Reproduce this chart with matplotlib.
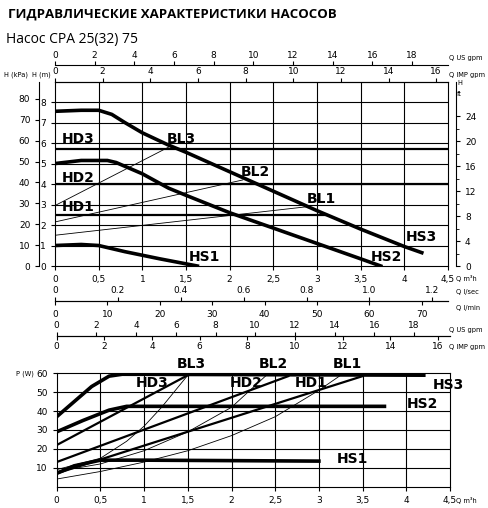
import matplotlib
matplotlib.use("Agg")
import matplotlib.pyplot as plt
import numpy as np

W, H = 488, 508
# ---- data: head curves (Q m3/h, H m)
hs3_q = [0, 0.3, 0.5, 0.65, 0.8, 1.0, 1.3, 1.5, 2.0, 2.5, 3.0, 3.5, 4.0, 4.2]
hs3_h = [7.55, 7.6, 7.6, 7.4, 7.0, 6.5, 5.9, 5.55, 4.6, 3.65, 2.7, 1.8, 0.95, 0.65]
hs2_q = [0, 0.3, 0.6, 0.7, 1.0, 1.3, 1.5, 2.0, 2.5, 3.0, 3.5, 3.73]
hs2_h = [5.0, 5.15, 5.15, 5.05, 4.5, 3.8, 3.45, 2.6, 1.85, 1.1, 0.35, 0.0]
hs1_q = [0, 0.3, 0.5, 0.8, 1.2, 1.63]
hs1_h = [1.0, 1.05, 1.0, 0.7, 0.35, 0.0]
bl_q = {"BL3": [0, 1.3], "BL2": [0, 2.15], "BL1": [0, 2.9]}
bl_h = {"BL3": [2.95, 5.8], "BL2": [2.15, 4.2], "BL1": [1.5, 2.9]}
hd_q = {"HD3": [0, 4.5], "HD2": [0, 4.5], "HD1": [0, 3.1]}
hd_h = {"HD3": [5.7, 5.7], "HD2": [4.0, 4.0], "HD1": [2.5, 2.5]}
# ---- data: power curves (Q m3/h, P W)
ps3_q = [0, 0.2, 0.4, 0.6, 0.75, 4.2]
ps3_p = [37, 45, 53, 58.5, 59.5, 59]
ps2_q = [0, 0.3, 0.6, 0.8, 3.75]
ps2_p = [29, 35, 40.5, 42.5, 42.5]
ps1_q = [0, 0.2, 0.5, 1.0, 3.0]
ps1_p = [7, 11, 14, 14, 13.5]
pd_q = {"HD3": [0, 1.5], "HD2": [0, 2.65], "HD1": [0, 3.5]}
pd_p = {"HD3": [22, 59], "HD2": [13, 58.5], "HD1": [7, 58.5]}
pb_q = {"BL3": [0, 0.5, 0.8, 1.0, 1.2, 1.5],
        "BL2": [0, 0.5, 1.0, 1.5, 2.0, 2.4],
        "BL1": [0, 0.5, 1.0, 1.5, 2.0, 2.5, 3.0, 3.25]}
pb_p = {"BL3": [9, 15, 24, 32, 42, 59],
        "BL2": [8, 12, 19, 29, 42, 59],
        "BL1": [4, 8, 13, 19, 27, 37, 51, 59]}

fig = plt.figure(figsize=(W/100, H/100), dpi=100)

def ax_at(x0, y0, x1, y1):
    return fig.add_axes([x0/W, 1-y1/H, (x1-x0)/W, (y1-y0)/H])

fs = 6.5
lw_t = 2.6
# ------------- top chart
a = ax_at(55, 82, 448, 266)
a.set_xlim(0, 4.5); a.set_ylim(0, 8.98)
for v in np.arange(0.5, 4.5, 0.5): a.axvline(v, color='k', lw=0.8)
for v in range(1, 9): a.axhline(v, color='k', lw=0.8)
a.plot(hs3_q, hs3_h, 'k', lw=lw_t)
a.plot(hs2_q, hs2_h, 'k', lw=lw_t)
a.plot(hs1_q, hs1_h, 'k', lw=lw_t)
for k in bl_q: a.plot(bl_q[k], bl_h[k], 'k', lw=0.6)
for k in hd_q: a.plot(hd_q[k], hd_h[k], 'k', lw=1.6)
lab = {"HD3": (0.08, 6.18), "HD2": (0.08, 4.28), "HD1": (0.08, 2.9),
       "BL3": (1.45, 6.18), "BL2": (2.29, 4.57), "BL1": (3.05, 3.25),
       "HS3": (4.2, 1.4), "HS2": (3.8, 0.45), "HS1": (1.71, 0.45)}
for k, (x, y) in lab.items():
    a.text(x, y, k, fontsize=10, fontweight='bold', va='center', ha='left' if k.startswith('HD') else 'center')
a.set_xticks(np.arange(0, 4.6, 0.5))
a.set_xticklabels(['0', '0,5', '1', '1,5', '2', '2,5', '3', '3,5', '4', '4,5'])
a.set_yticks(range(0, 9))
a.tick_params(labelsize=fs, length=3)
# left kPa
sk = a.secondary_yaxis(-0.04, functions=(lambda m: m*9.81, lambda k: k/9.81))
sk.set_yticks(range(0, 90, 10)); sk.tick_params(labelsize=fs, length=3)
# right ft
sf = a.secondary_yaxis(1.02, functions=(lambda m: m*3.281, lambda f: f/3.281))
sf.set_yticks(range(0, 26, 4)); sf.set_yticks(range(2, 26, 4), minor=True)
sf.tick_params(labelsize=fs, length=3)
# top gpm
si = a.secondary_xaxis('top', functions=(lambda q: q*3.666, lambda g: g/3.666))
si.set_xticks(range(0, 17, 2)); si.tick_params(labelsize=fs, length=3, pad=1)
su = a.secondary_xaxis(1.092, functions=(lambda q: q*4.403, lambda g: g/4.403))
su.set_xticks(range(0, 19, 2)); su.tick_params(labelsize=fs, length=3, pad=1)
# bottom l/sec, l/min
loc = -(300.7-266)/184
sl = a.secondary_xaxis(loc, functions=(lambda q: q*16.667, lambda l: l/16.667))
sl.set_xticks(range(0, 71, 10)); sl.tick_params(labelsize=fs, length=3)
ss = a.secondary_xaxis(loc, functions=(lambda q: q/3.6, lambda s: s*3.6))
ss.xaxis.set_ticks_position('top'); ss.xaxis.set_label_position('top')
ss.set_xticks([0, 0.2, 0.4, 0.6, 0.8, 1.0, 1.2]); ss.set_xticklabels(['0', '0.2', '0.4', '0.6', '0.8', '1.0', '1.2'])
ss.tick_params(labelsize=fs, length=3, pad=1)
ss.spines['top'].set_visible(False)

def ft(x, y, s, **kw):
    fig.text(x/W, 1-y/H, s, fontsize=kw.pop('size', 4.8), **kw)
ft(449, 58, "Q US gpm", va='center'); ft(449, 75, "Q IMP gpm", va='center')
ft(4, 75, "H (kPa)", va='center'); ft(32, 75, "H (m)", va='center')
ft(457, 83, "H", va='center'); ft(457, 94, "ft", va='center')
ft(456, 278, "Q m³h", va='center'); ft(456, 292, "Q l/sec", va='center'); ft(456, 308, "Q l/min", va='center')
ft(8, 14, "ГИДРАВЛИЧЕСКИЕ ХАРАКТЕРИСТИКИ НАСОСОВ", size=9.5, fontweight='bold', va='center', family='Open Sans')
ft(6, 39, "Насос CPA 25(32) 75", size=10, va='center', family='Open Sans')

# ------------- bottom chart
b = ax_at(56.7, 373.3, 450, 486.6)
b.set_xlim(0, 4.5); b.set_ylim(0, 60)
for v in np.arange(0.5, 4.5, 0.5): b.axvline(v, color='k', lw=0.8)
for v in range(10, 60, 10): b.axhline(v, color='k', lw=0.8)
b.plot(ps3_q, ps3_p, 'k', lw=lw_t)
b.plot(ps2_q, ps2_p, 'k', lw=lw_t)
b.plot(ps1_q, ps1_p, 'k', lw=lw_t)
for k in pd_q: b.plot(pd_q[k], pd_p[k], 'k', lw=1.6)
for k in pb_q: b.plot(pb_q[k], pb_p[k], 'k', lw=0.6)
lab2 = {"BL3": (1.54, 64.7), "BL2": (2.48, 64.7), "BL1": (3.33, 64.7),
        "HD3": (1.09, 55), "HD2": (2.17, 55), "HD1": (2.91, 55),
        "HS3": (4.3, 53.7), "HS2": (4.0, 44), "HS1": (3.2, 14.4)}
for k, (x, y) in lab2.items():
    b.text(x, y, k, fontsize=10, fontweight='bold', va='center', ha='center' if not k.startswith('HS') else 'left', clip_on=False)
b.set_xticks(np.arange(0, 4.6, 0.5))
b.set_xticklabels(['0', '0,5', '1', '1,5', '2', '2,5', '3', '3,5', '4', '4,5'])
b.set_yticks(range(10, 61, 10))
b.tick_params(labelsize=fs, length=3)
bl = 1 + (373.3-336)/113.3
bu = b.secondary_xaxis(bl, functions=(lambda q: q*4.403, lambda g: g/4.403))
bu.set_xticks(range(0, 19, 2)); bu.tick_params(labelsize=fs, length=3, pad=1)
bi = b.secondary_xaxis(bl, functions=(lambda q: q*3.666, lambda g: g/3.666))
bi.xaxis.set_ticks_position('bottom')
bi.set_xticks(range(0, 17, 2)); bi.tick_params(labelsize=fs, length=3, pad=1)
ft(449, 330, "Q US gpm", va='center'); ft(449, 347, "Q IMP gpm", va='center')
ft(16, 374, "P (W)", va='center'); ft(456, 500, "Q m³h", va='center')

fig.savefig("out.png", dpi=100)
